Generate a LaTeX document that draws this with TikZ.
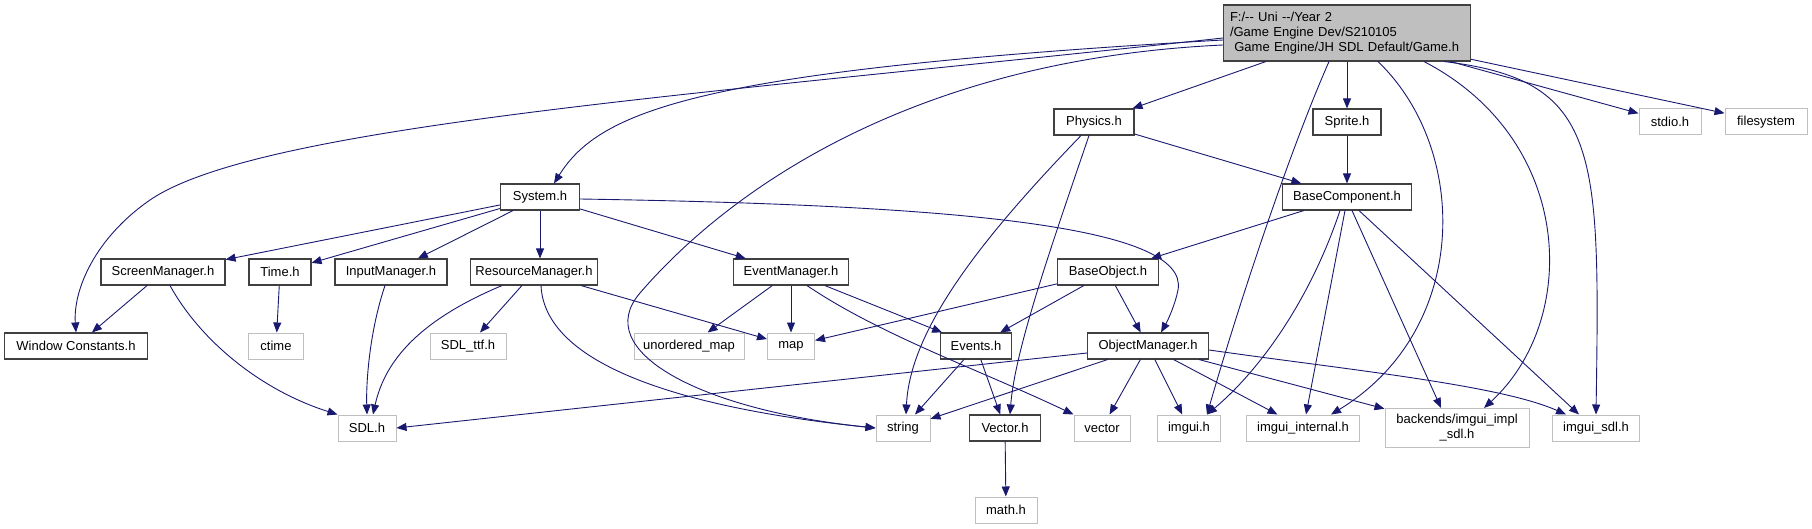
\documentclass[tikz,border=0pt]{standalone}
\usepackage{fontspec}
\setmainfont{Liberation Sans}
\usetikzlibrary{arrows.meta}

\definecolor{edgeblue}{RGB}{25,25,112}
\definecolor{extgrey}{RGB}{191,191,191}

\begin{document}
\begin{tikzpicture}[
x=1pt, y=-1pt,
font=\fontsize{13}{15}\selectfont,
hdr/.style={
draw=black!75,
fill=white,
line width=1.1pt,
inner sep=0pt,
minimum height=26pt
},
ext/.style={hdr, draw=extgrey, line width=1pt},
root/.style={hdr, fill=extgrey},
dep/.style={draw=edgeblue, line width=0.9pt, -{Triangle[length=10pt,width=8pt]}}
]
\useasboundingbox (0,0) rectangle (1812,529);

\node[root, text width=234pt, inner xsep=6.5pt, minimum height=56pt, align=left] (game) at (1347,33)
{F:/-{}- Uni -{}-/Year 2\\/Game Engine Dev/S210105\\\ Game Engine/JH SDL Default/Game.h};

\node[hdr, minimum width=80pt] (physics) at (1094,122) {Physics.h};
\node[hdr, minimum width=68pt] (sprite) at (1347,122) {Sprite.h};
\node[ext, minimum width=62pt] (stdio) at (1670,122) {stdio.h};
\node[ext, minimum width=82pt] (filesys) at (1766,122) {filesystem};

\node[hdr, minimum width=79pt] (system) at (540,197) {System.h};
\node[hdr, minimum width=129pt] (basecomp) at (1347,197) {BaseComponent.h};

\node[hdr, minimum width=124pt] (screen) at (163,272) {ScreenManager.h};
\node[hdr, minimum width=62pt] (time) at (280,272) {Time.h};
\node[hdr, minimum width=112pt] (input) at (391,272) {InputManager.h};
\node[hdr, minimum width=127pt] (resource) at (534,272) {ResourceManager.h};
\node[hdr, minimum width=115pt] (eventmgr) at (791,272) {EventManager.h};
\node[hdr, minimum width=101pt] (baseobj) at (1108,272) {BaseObject.h};

\node[hdr, minimum width=143pt] (wconst) at (76,346) {Window Constants.h};
\node[ext, minimum width=55pt] (ctime) at (276,346) {ctime};
\node[ext, minimum width=76pt] (sdlttf) at (468,346) {SDL\_ttf.h};
\node[ext, minimum width=110pt] (unmap) at (689,346) {unordered\_map};
\node[ext, minimum width=47pt] (map) at (791,346) {map};
\node[hdr, minimum width=71pt] (events) at (976,346) {Events.h};
\node[hdr, minimum width=121pt] (objmgr) at (1148,346) {ObjectManager.h};

\node[ext, minimum width=58pt] (sdl) at (367,428) {SDL.h};
\node[ext, minimum width=54pt] (string) at (903,428) {string};
\node[hdr, minimum width=71pt] (vectorh) at (1005,428) {Vector.h};
\node[ext, minimum width=56pt] (vector) at (1102,428) {vector};
\node[ext, minimum width=63pt] (imgui) at (1189,428) {imgui.h};
\node[ext, minimum width=113pt] (imguiint) at (1303,428) {imgui\_internal.h};
\node[ext, minimum width=144pt, minimum height=39pt, align=center] (backends) at (1457,428)
{backends/imgui\_impl\\\_sdl.h};
\node[ext, minimum width=87pt] (imguisdl) at (1596,428) {imgui\_sdl.h};

\node[ext, minimum width=62pt] (math) at (1006,510) {math.h};

% Game.h
\draw[dep] ([yshift=-5pt]game.west) .. controls (700,95) and (260,125) .. (150,200)
  .. controls (95,238) and (73,290) .. (wconst.north);
\draw[dep] ([yshift=-7pt]game.west) .. controls (700,70) and (600,110) .. ([xshift=14pt]system.north);
\draw[dep] ([yshift=-12pt]game.west) .. controls (900,60) and (720,200) .. (640,293)
  .. controls (590,351) and (700,410) .. (string.west);
\draw[dep] (game) -- (physics);
\draw[dep] (game) -- (sprite);
\draw[dep] ([xshift=-18pt]game.south) .. controls (1290,150) and (1240,300) .. ([xshift=18pt]imgui.north);
\draw[dep] ([xshift=31pt]game.south) .. controls (1470,150) and (1470,330) .. ([xshift=28pt]imguiint.north);
\draw[dep] ([xshift=77pt]game.south) .. controls (1575,140) and (1580,320) .. ([xshift=27pt]backends.north);
\draw[dep] ([xshift=97pt]game.south) .. controls (1600,80) and (1600,150) .. (imguisdl.north);
\draw[dep] (game) -- (stdio);
\draw[dep] (game) -- (filesys);

% Physics.h, Sprite.h
\draw[dep] (physics) -- (basecomp);
\draw[dep] ([xshift=-13pt]physics.south) .. controls (980,240) and (910,330) .. ([xshift=3pt]string.north);
\draw[dep] ([xshift=-5pt]physics.south) .. controls (1050,250) and (1015,350) .. ([xshift=5pt]vectorh.north);
\draw[dep] (sprite) -- (basecomp);

% BaseComponent.h
\draw[dep] (basecomp) -- (baseobj);
\draw[dep] ([xshift=-7pt]basecomp.south) .. controls (1310,300) and (1260,370) .. ([xshift=18pt]imgui.north);
\draw[dep] ([xshift=-2pt]basecomp.south) -- ([xshift=3pt]imguiint.north);
\draw[dep] ([xshift=5pt]basecomp.south) -- ([xshift=-16pt]backends.north);
\draw[dep] ([xshift=12pt]basecomp.south) -- ([xshift=-17pt]imguisdl.north);

% System.h
\draw[dep] (system) -- (screen);
\draw[dep] (system) -- (time);
\draw[dep] (system) -- (input);
\draw[dep] (system.south) -- (system.south |- resource.north);
\draw[dep] (system) -- (eventmgr);
\draw[dep] ([yshift=-2pt]system.east) .. controls (950,205) and (1190,225) .. (1178,290)
  .. controls (1175,305) and (1168,320) .. ([xshift=13pt]objmgr.north);

% managers
\draw[dep] (screen) -- (wconst);
\draw[dep] ([xshift=7pt]screen.south) .. controls (200,340) and (260,390) .. (sdl.north west);
\draw[dep] (time) -- (ctime);
\draw[dep] ([xshift=-6pt]input.south) .. controls (370,330) and (366,380) .. (sdl.north);
\draw[dep] ([xshift=-32pt]resource.south) .. controls (420,320) and (385,360) .. ([xshift=6pt]sdl.north);
\draw[dep] (resource) -- (sdlttf);
\draw[dep] ([xshift=7pt]resource.south) .. controls (545,370) and (700,410) .. (string.west);
\draw[dep] (resource) -- (map);
\draw[dep] (eventmgr) -- (unmap);
\draw[dep] (eventmgr) -- (map);
\draw[dep] (eventmgr) -- (events);
\draw[dep] ([xshift=16pt]eventmgr.south) .. controls (880,335) and (980,370) .. (vector.north west);

% BaseObject.h, Events.h, Vector.h
\draw[dep] (baseobj) -- (map);
\draw[dep] (baseobj) -- (events);
\draw[dep] (baseobj) -- (objmgr);
\draw[dep] (events) -- (string);
\draw[dep] (events) -- (vectorh);
\draw[dep] (vectorh) -- (math);

% ObjectManager.h
\draw[dep] ([yshift=-7pt]objmgr.west) -- (sdl.east);
\draw[dep] (objmgr) -- (string);
\draw[dep] (objmgr) -- (vector);
\draw[dep] (objmgr) -- (imgui);
\draw[dep] (objmgr) -- (imguiint);
\draw[dep] (objmgr) -- (backends);
\draw[dep] ([yshift=-4pt]objmgr.east) .. controls (1350,370) and (1500,385) .. ([xshift=-30pt]imguisdl.north);

\end{tikzpicture}
\end{document}
